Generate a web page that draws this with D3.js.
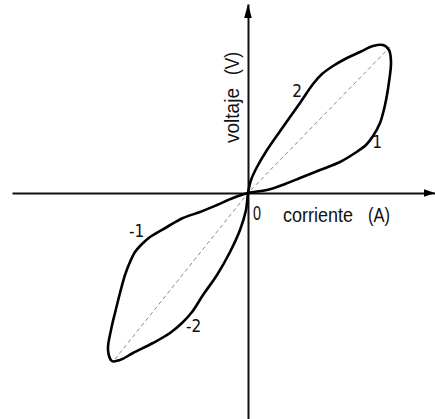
<!DOCTYPE html>
<html>
<head>
<meta charset="utf-8">
<script src="https://cdn.jsdelivr.net/npm/d3@7"></script>
<style>
  html, body { margin: 0; padding: 0; background: #fff; }
  svg { display: block; }
</style>
</head>
<body>
<svg id="chart" width="435" height="419"></svg>
<script>
// Current (A) / voltage (V) loop, traced as four branches.
// Branch "1": from the origin along the lower side up to the positive tip.
const branch1 = [
  [0, 0], [0.19, 0.03], [0.37, 0.09], [0.52, 0.15], [0.72, 0.23],
  [0.92, 0.31], [1.07, 0.40], [1.18, 0.48], [1.25, 0.57], [1.32, 0.70],
  [1.37, 0.88], [1.41, 1.11], [1.43, 1.31], [1.41, 1.43], [1.35, 1.48]
];
// Branch "2": back from the positive tip to the origin along the upper side.
const branch2 = [
  [1.25, 1.47], [1.12, 1.41], [0.99, 1.35], [0.85, 1.27], [0.74, 1.19],
  [0.65, 1.09], [0.52, 0.90], [0.35, 0.66], [0.19, 0.43], [0.09, 0.26],
  [0.03, 0.13], [0, 0]
];
// Branch "-2": from the origin down to the negative tip.
const branchNeg2 = [
  [-0.02, -0.17], [-0.08, -0.37], [-0.18, -0.59], [-0.31, -0.82],
  [-0.45, -1.02], [-0.56, -1.19], [-0.66, -1.30], [-0.78, -1.40],
  [-0.95, -1.50], [-1.15, -1.60], [-1.28, -1.67], [-1.36, -1.68]
];
// Branch "-1": from the negative tip back up to the origin.
const branchNeg1 = [
  [-1.40, -1.57], [-1.37, -1.37], [-1.33, -1.20], [-1.28, -1.00],
  [-1.23, -0.82], [-1.18, -0.69], [-1.13, -0.59], [-1.07, -0.52],
  [-0.98, -0.44], [-0.81, -0.34], [-0.65, -0.25], [-0.48, -0.19],
  [-0.31, -0.12], [-0.15, -0.05]
];
// Straight reference line between the two tips.
const diagonal = [[-1.33, -1.66], [0, 0], [1.42, 1.46]];

const branchNames = ["1", "2", "-1", "-2"];
const branchLabelAt = [[1.29, 0.45], [0.49, 0.96], [-1.115, -0.44], [-0.545, -1.39]];
const originLabel = "0";
const xTitle = ["corriente", "(A)"];
const yTitle = ["voltaje", "(V)"];

const x = d3.scaleLinear().domain([-2.36, 1.87]).range([12, 435]);
const y = d3.scaleLinear().domain([-2.26, 1.89]).range([419, 4]);

const svg = d3.select("#chart");

// Axes without ticks, crossing at the origin
svg.append("g")
  .attr("transform", `translate(0,${y(0)})`)
  .call(d3.axisBottom(x).tickValues([]).tickSizeOuter(0));
svg.append("g")
  .attr("transform", `translate(${x(0)},0)`)
  .call(d3.axisLeft(y).tickValues([]).tickSizeOuter(0));
svg.selectAll(".domain").attr("stroke", "#111").attr("stroke-width", 2);

// Arrowheads
const xe = x.range()[1], yt = y.range()[1];
svg.append("path")
  .attr("d", `M${xe},${y(0)} L${xe - 11},${y(0) - 3.8} L${xe - 11},${y(0) + 3.8} Z`)
  .attr("fill", "#000");
svg.append("path")
  .attr("d", `M${x(0)},${yt} L${x(0) - 3.8},${yt + 14} L${x(0) + 3.8},${yt + 14} Z`)
  .attr("fill", "#000");

// Dashed reference diagonal
svg.append("path")
  .datum(diagonal)
  .attr("d", d3.line().x(d => x(d[0])).y(d => y(d[1])))
  .attr("fill", "none")
  .attr("stroke", "#8a8a8a")
  .attr("stroke-width", 1)
  .attr("stroke-dasharray", "4,3");

// Figure-eight loop through all four branches
const loop = branch1.concat(branch2, branchNeg2, branchNeg1);
svg.append("path")
  .datum(loop)
  .attr("d", d3.line()
    .x(d => x(d[0])).y(d => y(d[1]))
    .curve(d3.curveCatmullRomClosed.alpha(0.5)))
  .attr("fill", "none")
  .attr("stroke", "#000")
  .attr("stroke-width", 2.6)
  .attr("stroke-linejoin", "round");

// Branch labels
svg.selectAll("text.branch")
  .data(branchNames)
  .join("text")
  .attr("class", "branch")
  .attr("x", (d, i) => x(branchLabelAt[i][0]))
  .attr("y", (d, i) => y(branchLabelAt[i][1]))
  .attr("text-anchor", "middle")
  .attr("font-family", "'DejaVu Sans Condensed', 'DejaVu Sans', sans-serif")
  .attr("font-size", 17)
  .attr("fill", "#111")
  .text(d => d);

const titleFont = "'Liberation Sans', Arial, sans-serif";

// Origin label
svg.append("text")
  .attr("x", x(0) + 5)
  .attr("y", y(0) + 27)
  .attr("font-family", titleFont)
  .attr("font-size", 20)
  .attr("textLength", 8)
  .attr("lengthAdjust", "spacingAndGlyphs")
  .attr("fill", "#111")
  .text(originLabel);

// Horizontal axis title
const xParts = [{ t: xTitle[0], x0: 283, len: 70 }, { t: xTitle[1], x0: 368, len: 22 }];
svg.selectAll("text.xtitle")
  .data(xParts)
  .join("text")
  .attr("class", "xtitle")
  .attr("x", d => d.x0)
  .attr("y", y(0) + 29)
  .attr("font-family", titleFont)
  .attr("font-size", 20)
  .attr("textLength", d => d.len)
  .attr("lengthAdjust", "spacingAndGlyphs")
  .attr("fill", "#111")
  .text(d => d.t);

// Vertical axis title
const yParts = [{ t: yTitle[0], y0: 143, len: 55 }, { t: yTitle[1], y0: 75, len: 23 }];
svg.selectAll("text.ytitle")
  .data(yParts)
  .join("text")
  .attr("class", "ytitle")
  .attr("transform", d => `translate(${x(0) - 9},${d.y0}) rotate(-90)`)
  .attr("font-family", titleFont)
  .attr("font-size", 20)
  .attr("textLength", d => d.len)
  .attr("lengthAdjust", "spacingAndGlyphs")
  .attr("fill", "#111")
  .text(d => d.t);
</script>
</body>
</html>
